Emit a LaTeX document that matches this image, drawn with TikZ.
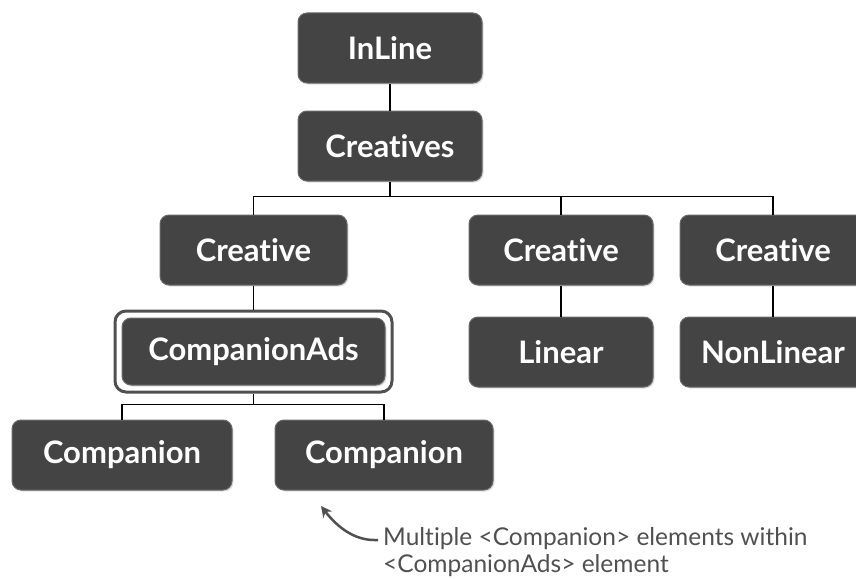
\documentclass[tikz,border=0pt]{standalone}
\usepackage{fontspec}
\setmainfont{Lato}[Ligatures={NoCommon}]
\usetikzlibrary{fit,shadows,arrows.meta}
\definecolor{boxgray}{HTML}{444444}
\definecolor{notegray}{HTML}{505050}

\begin{document}
\begin{tikzpicture}[x=1pt,y=-1pt,
  elem/.style={draw=boxgray!80!white, line width=1pt, fill=boxgray, rounded corners=9pt,
    minimum width=184pt, minimum height=70pt, text=white,
    font=\fontsize{31}{33}\selectfont\bfseries,
    drop shadow={shadow xshift=1.5pt, shadow yshift=-1.5pt, opacity=.25}},
  ring/.style={draw=notegray, line width=3pt, rounded corners=11pt, inner sep=6.5pt},
  link/.style={line width=1.2pt},
  note/.style={text=notegray, align=left, inner sep=0pt,
    font=\fontsize{24.5}{27}\selectfont}]

\useasboundingbox (0,0) rectangle (856,578);

\node[elem] (inline) at (390,48) {InLine};
\node[elem] (creatives) at (390,146) {Creatives};

\node[elem, minimum width=187pt] (cre1) at (253.5,250) {Creative};
\node[elem] (cre2) at (561,250) {Creative};
\node[elem, minimum width=186pt] (cre3) at (773,250) {Creative};

\node[elem, minimum width=263pt, minimum height=67pt] (ads) at (253.5,351.5) {CompanionAds};
\node[ring, fit=(ads)] (adsring) {};
\node[elem] (linear) at (561,352) {Linear};
\node[elem, minimum width=186pt] (nonlinear) at (773,352) {NonLinear};

\node[elem, minimum width=220pt] (comp1) at (122,455) {Companion};
\node[elem, minimum width=218pt] (comp2) at (384,455) {Companion};

\draw[link] (inline) -- (creatives);
\draw[link] (creatives.south) -- ++(0,15) coordinate (bar1);
\draw[link] (cre1.north) |- (bar1) -| (cre3.north);
\draw[link] (cre2.north) -- (cre2.north |- bar1);
\draw[link] (cre1) -- (adsring);
\draw[link] (cre2) -- (linear);
\draw[link] (cre3) -- (nonlinear);
\draw[link] (adsring.south) -- ++(0,11) coordinate (bar2);
\draw[link] (comp1.north) |- (bar2) -| (comp2.north);

\node[note, anchor=north west] (note) at (383,527)
  {Multiple <Companion> elements within\\<CompanionAds> element};
\coordinate (tip) at (321,506);
\draw[notegray, line width=2.5pt, -{Stealth[length=11pt,width=11pt]}]
  ([xshift=-5pt]note.west |- 0,540) -- ++(-4,0) .. controls (355,540) and (338,528) .. (tip);

\end{tikzpicture}
\end{document}
